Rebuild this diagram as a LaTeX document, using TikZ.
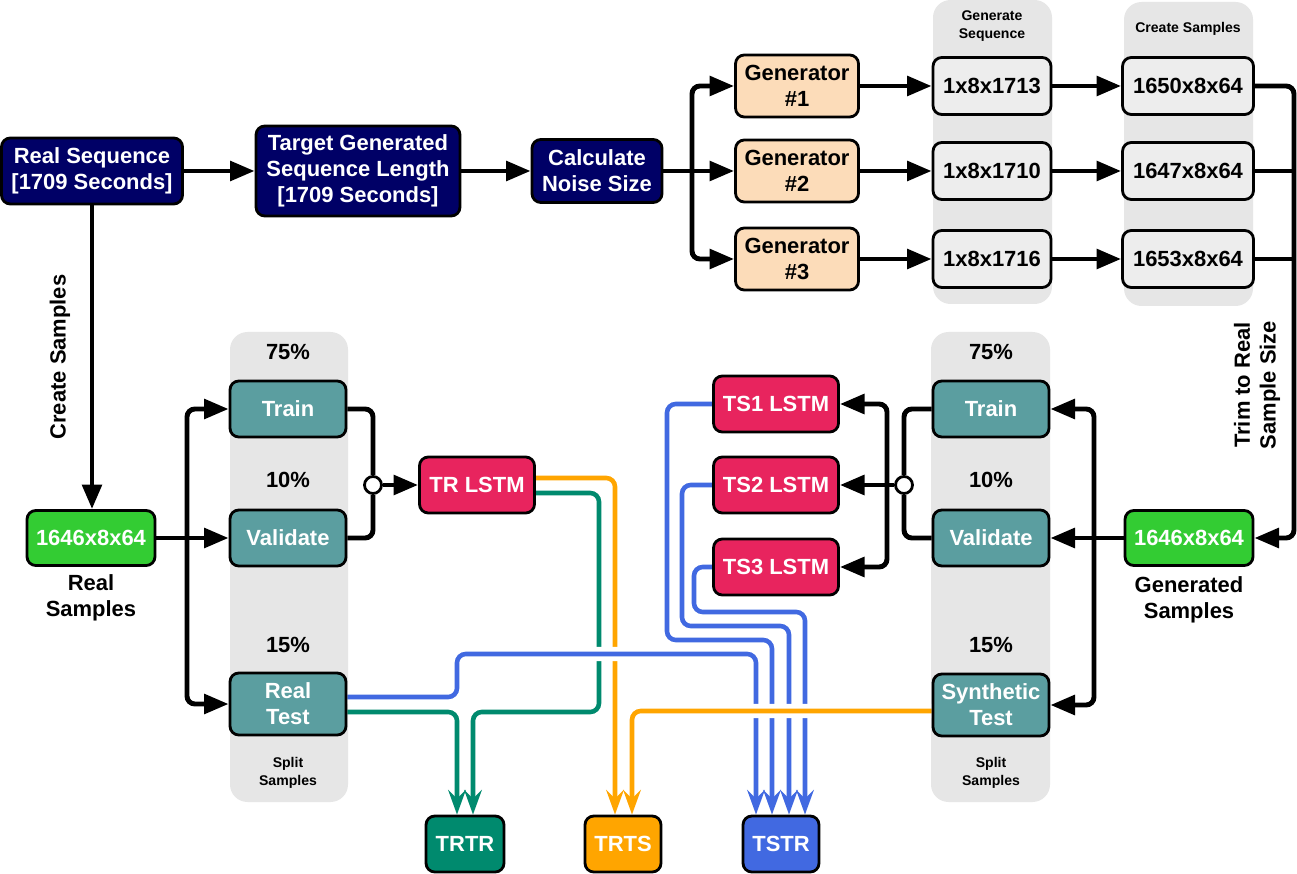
\documentclass[tikz,border=0pt]{standalone}
\usepackage{fontspec}
\setmainfont{Liberation Sans}
\usepackage{tikz}
\usetikzlibrary{arrows.meta,calc,positioning}

\definecolor{navyblk}{HTML}{000066}
\definecolor{peach}{HTML}{FCDCB9}
\definecolor{lightbox}{HTML}{EDEDED}
\definecolor{colbg}{HTML}{E6E6E6}
\definecolor{tealbox}{HTML}{5B9EA0}
\definecolor{pinkbox}{HTML}{E8245E}
\definecolor{limebox}{HTML}{33CC33}
\definecolor{trgreen}{HTML}{008A6E}
\definecolor{trorange}{HTML}{FFA500}
\definecolor{tsblue}{HTML}{4169E1}

\newcommand{\bxfont}{\fontsize{12.5}{14.7}\selectfont\bfseries}
\newcommand{\smfont}{\fontsize{8}{10}\selectfont\bfseries}

\pgfdeclarelayer{bg}
\pgfdeclarelayer{wires}
\pgfsetlayers{bg,wires,main}

\tikzset{
  box/.style={draw=black, line width=1.6pt, rounded corners=5pt, align=center, text=white, font=\bxfont, inner sep=1pt},
  navybox/.style={box, fill=navyblk},
  genbox/.style={box, fill=peach, text=black, minimum width=2.46cm, minimum height=1.24cm},
  seqbox/.style={box, fill=lightbox, text=black, minimum width=2.36cm, minimum height=1.14cm},
  smpbox/.style={box, fill=lightbox, text=black, minimum width=2.62cm, minimum height=1.14cm},
  limeb/.style={box, fill=limebox, minimum width=2.56cm, minimum height=1.1cm},
  splitbox/.style={box, fill=tealbox, minimum width=2.32cm, minimum height=1.12cm},
  lstmbox/.style={box, fill=pinkbox, minimum width=2.5cm, minimum height=1.12cm},
  resbox/.style={box, minimum width=1.56cm, minimum height=1.12cm},
  junc/.style={circle, draw=black, fill=white, line width=1.6pt, minimum size=0.34cm, inner sep=0pt},
  lbl/.style={font=\bxfont, align=center},
  small/.style={font=\smfont, align=center},
  wire/.style={line width=2.8pt, rounded corners=4.5pt},
  cwire/.style={line width=2.6pt, rounded corners=5pt, -{Stealth[length=14pt,width=10pt,inset=5pt]}},
  halo/.style={preaction={draw=white, line width=8pt, -}}
}

\begin{document}
\begin{tikzpicture}[x=0.02cm, y=-0.02cm, >={Triangle[length=14pt,width=11pt]}]

    % background and grey columns
    \begin{pgfonlayer}{bg}
    \fill[white] (0,0) rectangle (1297,874);
    \fill[colbg, rounded corners=10pt] (933,0) rectangle (1052,304);
    \fill[colbg, rounded corners=10pt] (1124,2) rectangle (1253,306);
    \fill[colbg, rounded corners=10pt] (230,332) rectangle (348,802);
    \fill[colbg, rounded corners=10pt] (931,332) rectangle (1050,802);
    \end{pgfonlayer}

    % top row
    \node[navybox, minimum width=3.62cm, minimum height=1.32cm] (rseq) at (92,171) {Real Sequence\\{[}1709 Seconds{]}};
    \node[navybox, minimum width=4.08cm, minimum height=1.8cm] (tgt) at (358,171) {Target Generated\\Sequence Length\\{[}1709 Seconds{]}};
    \node[navybox, minimum width=2.6cm, minimum height=1.26cm] (noise) at (597,171) {Calculate\\Noise Size};

    \node[genbox] (gen1) at (797,86) {Generator\\\#1};
    \node[genbox] (gen2) at (797,171) {Generator\\\#2};
    \node[genbox] (gen3) at (797,259) {Generator\\\#3};

    \node[small] (genseq) at (992,26) {Generate\\Sequence};
    \node[seqbox] (seq1) at (992,86) {1x8x1713};
    \node[seqbox] (seq2) at (992,171) {1x8x1710};
    \node[seqbox] (seq3) at (992,259) {1x8x1716};

    \node[small] (crsmp) at (1188,29) {Create Samples};
    \node[smpbox] (smp1) at (1188,86) {1650x8x64};
    \node[smpbox] (smp2) at (1188,171) {1647x8x64};
    \node[smpbox] (smp3) at (1188,259) {1653x8x64};

    % samples
    \node[limeb] (rsmp) at (91,538) {1646x8x64};
    \node[lbl] (rsmplbl) at (91,598) {Real\\Samples};
    \node[lbl, rotate=90] (crlbl) at (60,357) {Create Samples};

    \node[limeb] (gsmp) at (1189,538) {1646x8x64};
    \node[lbl] (gsmplbl) at (1189,600) {Generated\\Samples};
    \node[lbl, rotate=90] (trimlbl) at (1257,385) {Trim to Real\\Sample Size};

    % real split
    \node[lbl] (rp75) at (288,352) {75\%};
    \node[splitbox] (rtrain) at (288,409) {Train};
    \node[lbl] (rp10) at (288,480) {10\%};
    \node[splitbox] (rval) at (288,538) {Validate};
    \node[lbl] (rp15) at (288,645) {15\%};
    \node[splitbox, minimum height=1.24cm] (rtest) at (288,704) {Real\\Test};
    \node[small] (rsplitlbl) at (288,773) {Split\\Samples};

    % synthetic split
    \node[lbl] (sp75) at (991,352) {75\%};
    \node[splitbox] (strain) at (991,409) {Train};
    \node[lbl] (sp10) at (991,480) {10\%};
    \node[splitbox] (sval) at (991,538) {Validate};
    \node[lbl] (sp15) at (991,645) {15\%};
    \node[splitbox, minimum height=1.24cm] (stest) at (991,705) {Synthetic\\Test};
    \node[small] (ssplitlbl) at (991,773) {Split\\Samples};

    % lstm models
    \node[lstmbox, minimum width=2.3cm] (trl) at (477,485) {TR LSTM};
    \node[lstmbox] (ts1) at (776,404) {TS1 LSTM};
    \node[lstmbox] (ts2) at (776,485) {TS2 LSTM};
    \node[lstmbox] (ts3) at (776,567) {TS3 LSTM};

    % results
    \node[resbox, fill=trgreen] (trtr) at (465,844) {TRTR};
    \node[resbox, fill=trorange, minimum width=1.52cm] (trts) at (623,844) {TRTS};
    \node[resbox, fill=tsblue, minimum width=1.52cm] (tstr) at (781,844) {TSTR};

    \node[junc] (ljunc) at (373,485) {};
    \node[junc] (rjunc) at (904,485) {};

    \coordinate (nsplit) at (692,171);
    \coordinate (trim) at (1294,538);
    \coordinate (lsplit) at (187,538);
    \coordinate (rsplit) at (1094,538);
    \coordinate (tsplit) at (887,485);

    % black connectors
    \draw[wire,->] (rseq.east) -- (tgt.west);
    \draw[wire,->] (tgt.east) -- (noise.west);
    \draw[wire,->] (noise.east) -- (gen2.west);
    \draw[wire,->] (nsplit) |- (gen1.west);
    \draw[wire,->] (nsplit) |- (gen3.west);
    \foreach \i in {1,2,3} {
        \draw[wire,->] (gen\i) -- (seq\i);
        \draw[wire,->] (seq\i) -- (smp\i);
    }
    \draw[wire,->] (smp1.east) -| (trim) -- (gsmp.east);
    \draw[wire] (smp2.east) -- (smp2.east -| trim);
    \draw[wire] (smp3.east) -- (smp3.east -| trim);

    \draw[wire,->] (rseq.south) -- (rseq.south |- rsmp.north);
    \draw[wire,->] (rsmp) -- (rval);
    \draw[wire,->] (lsplit) |- (rtrain.west);
    \draw[wire,->] (lsplit) |- (rtest.west);
    \draw[wire] (rtrain.east) -| (ljunc.north);
    \draw[wire] (rval.east) -| (ljunc.south);
    \draw[wire,->] (ljunc) -- (trl);

    \draw[wire,->] (gsmp) -- (sval);
    \draw[wire,->] (rsplit) |- (strain.east);
    \draw[wire,->] (rsplit) |- (stest.east);
    \draw[wire] (strain.west) -| (rjunc.north);
    \draw[wire] (sval.west) -| (rjunc.south);
    \draw[wire,->] (rjunc) -- (ts2);
    \draw[wire,->] (tsplit) |- (ts1.east);
    \draw[wire,->] (tsplit) |- (ts3.east);

    % coloured connectors
    \begin{pgfonlayer}{wires}
    \draw[cwire, trgreen] ($(trl.east)+(0,8)$) -| (599,712) -| ($(trtr.north)+(8,0)$);
    \draw[cwire, trgreen] ($(rtest.east)+(0,8)$) -| ($(trtr.north)+(-8,0)$);
    \draw[cwire, trorange] ($(trl.east)+(0,-7)$) -| ($(trts.north)+(-8,0)$);
    \draw[cwire, tsblue, halo] ($(rtest.east)+(0,-7)$) -| (457,654) -| ($(tstr.north)+(-25,0)$);
    \draw[cwire, tsblue] (ts1.west) -| (667,640) -| ($(tstr.north)+(-9,0)$);
    \draw[cwire, tsblue] (ts2.west) -| (682,626) -| ($(tstr.north)+(8,0)$);
    \draw[cwire, tsblue] (ts3.west) -| (694,612) -| ($(tstr.north)+(24,0)$);
    \draw[cwire, trorange, halo] ($(stest.west)+(0,6)$) -| ($(trts.north)+(9,0)$);
    \end{pgfonlayer}

\end{tikzpicture}
\end{document}
